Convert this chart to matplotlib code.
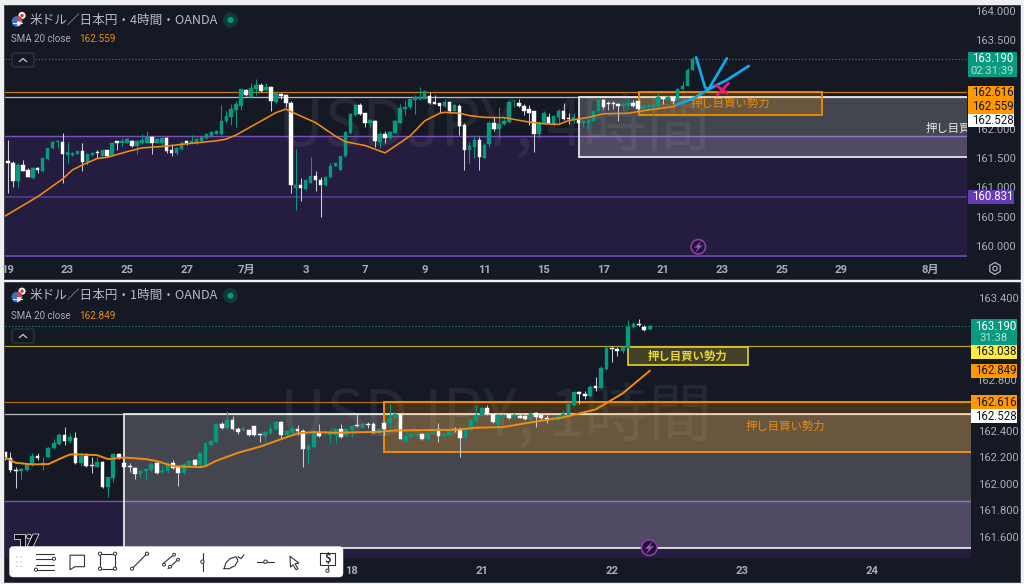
import numpy as np
import matplotlib
matplotlib.use("Agg")
import matplotlib.pyplot as plt
from matplotlib.patches import Rectangle, Circle, RegularPolygon, FancyBboxPatch, Polygon, Wedge

plt.rcParams['font.family'] = ['Noto Sans CJK JP', 'DejaVu Sans']

# 4時間足
top_open = [161.44,161.41,161.11,161.38,161.30,161.15,161.33,161.27,161.48,161.66,
    161.77,161.77,161.55,161.55,161.57,161.62,161.43,161.55,161.60,161.53,
    161.63,161.55,161.78,161.76,161.76,161.78,161.70,161.75,161.76,161.85,
    161.76,161.75,161.84,161.63,161.58,161.65,161.78,161.75,161.75,161.79,
    161.83,161.88,161.91,161.91,162.12,162.20,162.32,162.39,162.66,162.54,
    162.68,162.74,162.655,162.70,162.45,162.58,162.57,162.44,160.98,161.03,
    160.97,161.08,161.19,161.13,161.03,161.17,161.37,161.30,161.53,161.92,
    162.23,162.40,162.26,162.09,162.13,161.775,161.90,161.83,161.93,162.10,
    162.34,162.36,162.485,162.50,162.51,162.56,162.45,162.43,162.39,162.45,
    162.30,162.39,162.06,161.63,161.69,161.80,161.50,161.73,162.10,161.99,
    162.07,162.11,162.46,162.43,162.39,162.33,162.29,161.91,162.10,162.20,
    162.08,162.20,162.30,162.18,162.145,162.16,162.10,162.10,162.13,162.29,
    162.485,162.43,162.43,162.42,162.38,162.40,162.43,162.46,162.34,162.36,
    162.36,162.38,162.53,162.485,162.53,162.485,162.67,162.73,163.00]
top_high = [161.80,161.44,161.41,161.46,161.32,161.35,161.35,161.50,161.67,161.79,
    161.80,161.93,161.77,161.60,161.62,161.75,161.58,161.60,161.63,161.64,
    161.64,161.77,161.79,161.83,161.83,161.80,161.78,161.90,161.96,161.87,
    161.84,161.85,161.85,161.73,161.69,161.78,161.79,161.89,161.83,161.87,
    161.91,161.96,161.98,162.40,162.29,162.42,162.46,162.68,162.67,162.77,
    162.84,162.77,162.77,162.72,162.62,162.60,162.59,162.46,161.645,161.16,
    161.12,161.52,161.27,161.18,161.19,161.42,161.42,161.54,161.96,162.27,
    162.41,162.43,162.27,162.17,162.145,161.945,161.96,161.96,162.145,162.41,
    162.485,162.51,162.57,162.71,162.655,162.615,162.57,162.43,162.50,162.45,
    162.42,162.41,162.10,161.775,161.89,161.86,161.75,162.12,162.19,162.36,
    162.20,162.47,162.485,162.50,162.42,162.40,162.30,162.12,162.29,162.27,
    162.23,162.34,162.43,162.26,162.27,162.19,162.145,162.17,162.30,162.54,
    162.50,162.46,162.47,162.43,162.43,162.51,162.485,162.46,162.42,162.43,
    162.43,162.60,162.55,162.56,162.54,162.69,162.80,163.03,163.22]
top_low = [160.91,161.01,161.00,161.27,161.17,161.14,161.25,161.26,161.47,161.65,
    161.66,161.08,161.41,161.54,161.56,161.27,161.38,161.54,161.50,161.52,
    161.53,161.54,161.63,161.71,161.75,161.69,161.57,161.74,161.75,161.56,
    161.75,161.72,161.58,161.54,161.55,161.63,161.72,161.74,161.74,161.78,
    161.82,161.86,161.90,161.89,162.09,162.06,162.03,162.32,162.55,162.53,
    162.57,162.62,162.64,162.30,162.44,162.50,162.36,160.91,160.62,160.77,
    160.96,161.07,160.94,160.50,161.02,161.16,161.36,161.29,161.52,161.91,
    162.22,162.23,162.03,162.02,161.69,161.67,161.76,161.82,161.92,162.09,
    162.23,162.34,162.25,162.485,162.50,162.42,162.42,162.26,162.37,162.27,
    162.29,161.89,161.295,161.42,161.49,161.295,161.49,161.69,161.96,161.84,
    162.06,162.09,162.36,162.37,162.23,162.06,161.605,161.83,162.09,162.08,
    162.06,162.09,162.145,162.08,162.09,161.93,162.03,162.00,162.12,162.27,
    162.34,162.315,162.33,162.13,162.315,162.34,162.36,162.29,162.315,162.33,
    162.23,162.37,162.42,162.48,162.42,162.48,162.66,162.72,162.99]
top_close = [161.41,161.11,161.38,161.28,161.17,161.33,161.30,161.49,161.67,161.77,
    161.79,161.56,161.60,161.59,161.62,161.43,161.57,161.59,161.58,161.63,
    161.54,161.76,161.76,161.79,161.82,161.71,161.78,161.80,161.85,161.76,
    161.82,161.84,161.62,161.59,161.67,161.76,161.76,161.79,161.82,161.85,
    161.90,161.945,161.96,162.13,162.21,162.33,162.41,162.67,162.57,162.69,
    162.74,162.64,162.70,162.46,162.61,162.55,162.43,161.03,161.03,160.98,
    161.12,161.19,161.12,161.03,161.18,161.37,161.41,161.54,161.945,162.25,
    162.40,162.25,162.09,162.145,161.79,161.90,161.83,161.945,162.13,162.355,
    162.37,162.50,162.54,162.53,162.64,162.44,162.42,162.39,162.45,162.30,
    162.40,162.05,161.63,161.70,161.80,161.51,161.72,162.10,161.99,162.08,
    162.12,162.45,162.47,162.38,162.30,162.27,161.91,162.10,162.27,162.09,
    162.21,162.30,162.16,162.17,162.19,162.10,162.12,162.145,162.29,162.485,
    162.36,162.42,162.42,162.39,162.42,162.43,162.39,162.33,162.38,162.38,
    162.40,162.53,162.51,162.54,162.47,162.68,162.73,163.00,163.19]

top_sma_idx = [-1,6,11,13,15,18,20,24,27,32,36,39,42,44,46,50,54,56,58,62,66,68,72,76,81,84,87,88,91,93,96,100,105,108,111,113,117,120,125,129,134,135]
top_sma = [160.49,160.84,161.14,161.295,161.38,161.49,161.51,161.605,161.67,161.70,161.74,161.765,161.79,161.82,161.89,162.08,162.27,162.33,162.25,162.10,161.87,161.775,161.71,161.585,161.87,162.13,162.26,162.275,162.26,162.22,162.19,162.185,162.11,162.08,162.07,162.135,162.19,162.25,162.26,162.315,162.37,162.41]

top_tick_idx = [0,12,24,36,48,60,72,84,96,108,120,132,144,156,168,186]
top_tick_labels = ['19','23','25','27','7月','3','7','9','11','15','17','21','23','25','29','8月']
top_price_ticks = [164.0,163.5,162.0,161.5,161.0,160.5,160.0]

# 描き込みの線
blue_a_idx = [134.8,138.2,141.2,144.9,149.3]
blue_a = [162.406,162.513,162.667,162.825,163.064]
blue_b_idx = [141.2,144.9]
blue_b = [162.667,163.194]
blue_c_idx = [138.7,140.5,141.2]
blue_c = [163.211,162.70,162.667]
cross_a_idx = [142.7,144.9]
cross_a = [162.74,162.60]
cross_b_idx = [143.0,145.2]
cross_b = [162.57,162.77]

# 1時間足
low_open = [162.24,162.196,162.10,162.095,162.10,162.14,162.21,162.145,162.203,162.267,
    162.30,162.367,162.324,162.345,162.153,162.208,162.14,162.128,162.163,161.977,
    162.04,162.224,162.158,162.133,162.12,162.072,162.098,162.103,162.153,162.085,
    162.093,162.16,162.123,162.078,162.14,162.178,162.14,162.14,162.292,162.317,
    162.448,162.42,162.48,162.417,162.405,162.405,162.433,162.372,162.36,162.38,
    162.412,162.468,162.367,162.385,162.417,162.40,162.254,162.279,162.39,162.38,
    162.367,162.367,162.412,162.367,162.405,162.44,162.423,162.45,162.448,162.38,
    162.46,162.46,162.50,162.526,162.322,162.354,162.365,162.372,162.334,162.372,
    162.41,162.362,162.367,162.417,162.405,162.347,162.405,162.475,162.521,162.574,
    162.523,162.45,162.506,162.526,162.506,162.513,162.51,162.48,162.536,162.516,
    162.50,162.493,162.485,162.50,162.521,162.594,162.69,162.677,162.662,162.737,
    162.725,162.866,163.024,163.017,163.002,163.027,163.18,163.206,163.183,163.165]
low_high = [162.24,162.24,162.123,162.115,162.158,162.23,162.23,162.20,162.28,162.34,
    162.38,162.425,162.385,162.39,162.23,162.234,162.20,162.20,162.17,162.05,
    162.234,162.234,162.19,162.153,162.128,162.103,162.115,162.158,162.166,162.14,
    162.166,162.18,162.128,162.158,162.178,162.19,162.234,162.31,162.33,162.455,
    162.468,162.551,162.51,162.43,162.438,162.417,162.438,162.38,162.397,162.448,
    162.475,162.473,162.405,162.438,162.443,162.412,162.305,162.405,162.45,162.405,
    162.405,162.418,162.448,162.423,162.443,162.523,162.468,162.468,162.468,162.423,
    162.473,162.599,162.536,162.53,162.41,162.38,162.385,162.38,162.385,162.417,
    162.455,162.385,162.423,162.43,162.43,162.417,162.486,162.594,162.581,162.594,
    162.53,162.53,162.523,162.536,162.536,162.523,162.518,162.541,162.543,162.526,
    162.518,162.51,162.518,162.556,162.61,162.694,162.702,162.702,162.745,162.808,
    162.888,163.04,163.04,163.034,163.04,163.236,163.223,163.243,163.196,163.196]
low_low = [162.18,162.085,161.97,162.035,162.097,162.133,162.18,162.10,162.20,162.26,
    162.29,162.29,162.305,162.15,162.133,162.128,162.08,162.123,161.97,161.896,
    162.015,162.188,162.123,162.09,162.032,162.052,162.027,162.098,162.072,162.082,
    162.082,162.108,161.984,162.072,162.135,162.133,162.128,162.133,162.284,162.312,
    162.412,162.415,162.405,162.375,162.40,162.362,162.362,162.317,162.317,162.375,
    162.405,162.342,162.36,162.38,162.367,162.128,162.148,162.274,162.355,162.367,
    162.305,162.305,162.347,162.355,162.355,162.43,162.418,162.418,162.38,162.367,
    162.367,162.41,162.493,162.334,162.31,162.35,162.354,162.33,162.33,162.367,
    162.317,162.342,162.362,162.392,162.204,162.342,162.40,162.468,162.516,162.518,
    162.455,162.417,162.43,162.49,162.50,162.493,162.485,162.475,162.43,162.485,
    162.455,162.48,162.475,162.493,162.516,162.586,162.60,162.637,162.657,162.70,
    162.72,162.858,162.92,162.964,162.99,163.022,163.173,163.19,163.153,163.16]
low_close = [162.19,162.10,162.095,162.11,162.148,162.21,162.196,162.153,162.27,162.305,
    162.367,162.32,162.35,162.158,162.208,162.135,162.133,162.163,161.977,162.047,
    162.224,162.193,162.128,162.123,162.075,162.098,162.108,162.15,162.08,162.098,
    162.156,162.115,162.078,162.148,162.17,162.145,162.229,162.304,162.322,162.45,
    162.42,162.48,162.412,162.387,162.417,162.367,162.367,162.365,162.387,162.417,
    162.468,162.367,162.40,162.417,162.40,162.262,162.287,162.392,162.36,162.392,
    162.392,162.412,162.354,162.412,162.438,162.435,162.45,162.44,162.385,162.417,
    162.412,162.50,162.523,162.337,162.362,162.372,162.375,162.334,162.38,162.412,
    162.362,162.375,162.417,162.405,162.347,162.412,162.48,162.521,162.574,162.526,
    162.463,162.518,162.518,162.50,162.518,162.50,162.49,162.536,162.503,162.493,
    162.49,162.50,162.506,162.526,162.60,162.69,162.674,162.662,162.732,162.722,
    162.871,163.022,163.02,163.002,163.03,163.185,163.206,163.196,163.163,163.19]

low_sma_idx = [0,2,5,8,10,12,14,17,19,22,26,28,31,36,37,39,43,47,51,54,57,61,63,69,72,78,83,87,92,97,103,109,114,119]
low_sma = [162.198,162.158,162.146,162.148,162.186,162.221,162.221,162.216,162.186,162.198,162.186,162.171,162.133,162.125,162.133,162.173,162.234,162.279,162.337,162.38,162.39,162.385,162.387,162.392,162.402,162.405,162.407,162.423,162.428,162.463,162.501,162.561,162.682,162.853]

low_tick_idx = [64,88,112,136,160]
low_tick_labels = ['18','21','22','23','24']
low_price_ticks = [163.4,162.4,162.2,162.0,161.8,161.6]

W, H = 1024, 584
UP = '#089981'
DOWN = '#ffffff'
WICK_DOWN = '#c9ccd4'
PANEL = '#151924'
ORANGE = '#ff9800'
SMA_COL = '#f08c12'
LABEL = '#a9adb8'
ZONE_TXT = '押し目買い勢力'

fig = plt.figure(figsize=(W/100, H/100), dpi=100, facecolor='#efeff1')


def px_axes(x0, y0, x1, y1, z=1):
    a = fig.add_axes([x0/W, 1-y1/H, (x1-x0)/W, (y1-y0)/H], zorder=z)
    return a


# 下地と重ね描き用（座標はピクセル）
bg = px_axes(0, 0, W, H, 0)
bg.set_xlim(0, W); bg.set_ylim(H, 0); bg.axis('off')
ov = px_axes(0, 0, W, H, 5)
ov.set_xlim(0, W); ov.set_ylim(H, 0); ov.axis('off'); ov.patch.set_alpha(0)
bg.add_patch(Rectangle((4, 5), 1016, 274, fc=PANEL, ec='#3a3d47', lw=0.6))
bg.add_patch(Rectangle((4, 282), 1016, 300, fc=PANEL, ec='#3a3d47', lw=0.6))


def setup(ax, xlim, ylim, ticks, labels, prices, pad):
    ax.set_xlim(*xlim)
    ax.set_ylim(*ylim)
    ax.set_facecolor(PANEL)
    for s in ax.spines.values():
        s.set_visible(False)
    ax.yaxis.tick_right()
    ax.set_yticks(prices)
    ax.set_yticklabels(['%.3f' % p for p in prices], family='Roboto', fontsize=8.1, color=LABEL)
    ax.set_xticks(ticks)
    ax.set_xticklabels(labels, family=['Roboto', 'Noto Sans CJK JP'], fontsize=8.1, color=LABEL, fontweight='bold')
    ax.tick_params(axis='both', length=0)
    ax.tick_params(axis='y', pad=pad)
    ax.tick_params(axis='x', pad=6)


def candles(ax, o, h, l, c, width):
    o, h, l, c = map(np.array, (o, h, l, c))
    idx = np.arange(len(o))
    up = c >= o
    ax.vlines(idx[up], l[up], h[up], color=UP, lw=0.75, zorder=4)
    ax.vlines(idx[~up], l[~up], h[~up], color=WICK_DOWN, lw=0.75, zorder=4)
    ax.bar(idx[up], (c-o)[up], bottom=o[up], width=width, color=UP, edgecolor=UP, lw=0.3, zorder=5)
    ax.bar(idx[~up], (c-o)[~up], bottom=o[~up], width=width, color=DOWN, edgecolor=DOWN, lw=0.3, zorder=5)


def tag(y, h, txt, fc, tc, xl, xr, tx, ty=None):
    # yはラベル上端、tyは文字の中心（ピクセル）
    ov.add_patch(Rectangle((xl, y), xr-xl, h, fc=fc, ec='none', zorder=3))
    if txt:
        ov.text(tx, ty if ty is not None else y+h/2, txt, family='Roboto', fontsize=8.3, color=tc,
                ha='center', va='center', zorder=4)


def header(y_title, y_sma, y_btn, title, sma_value):
    ov.text(30, y_title, title, fontsize=9.1, color='#b7bac3', va='center')
    ov.text(11, y_sma, 'SMA 20 close', family='Roboto', fontsize=7, color='#a9adb8', va='center')
    ov.text(79, y_sma, sma_value, family='Roboto', fontsize=7.2, color='#ef8a12', va='center')
    ov.add_patch(FancyBboxPatch((12, y_btn-7), 22, 14, boxstyle='round,pad=0,rounding_size=2', fc=PANEL, ec='#3b3f4a', lw=0.7))
    ov.plot([19.5, 23, 26.5], [y_btn+1.5, y_btn-1.5, y_btn+1.5], color='#c5c8d0', lw=0.9)
    # 国旗アイコン
    fy = y_title + 1.5
    ov.add_patch(Circle((22, fy-6), 3.6, fc='#f4f4f4', ec='none'))
    ov.add_patch(Circle((22, fy-6), 1.7, fc='#d8343f', ec='none'))
    ov.add_patch(Circle((17, fy), 5.2, fc='#e9e9ec', ec=PANEL, lw=0.5))
    ov.add_patch(Wedge((17, fy), 5.2, 180, 360, fc='#d8434e', ec='none'))
    ov.add_patch(Wedge((17, fy), 5.2, 90, 270, fc='#3f6fc0', ec='none'))
    ov.plot([12.5, 21.5], [fy+1.6, fy+1.6], color='#f4f4f4', lw=0.7)
    # 市場オープンの印
    ov.add_patch(Circle((230.5, y_title), 7.5, fc='#0f3a35', ec='none'))
    ov.add_patch(Circle((230.5, y_title), 3, fc='#089981', ec='none'))


def bolt(x, y, r):
    ov.add_patch(Circle((x, y), r, fc='#1d1730', ec='#8e3aa8', lw=1.2))
    s = r / 5.0
    ov.add_patch(Polygon([(x+2.2*s, y-4.2*s), (x-2.8*s, y+0.8*s), (x-0.2*s, y+0.6*s), (x-2.2*s, y+4.2*s),
                          (x+3*s, y-1*s), (x+0.4*s, y-0.8*s)], closed=True, fc='#a94fc4', ec='none'))


# 上のペイン
ax1 = px_axes(5, 6, 967, 257)
setup(ax1, (-0.6, 193.3), (159.813, 164.085), top_tick_idx, top_tick_labels, top_price_ticks, 6)
ax1.axhspan(159.7, 161.87, color='#251d3f', lw=0, zorder=0)
ax1.text(0.284, 0.514, 'USDJPY, 4時間', transform=ax1.transAxes, fontsize=46, color='white', alpha=0.065,
         ha='left', va='center', zorder=1)
ax1.axhline(161.87, color='#7a52c0', lw=1.0, zorder=2)
ax1.axhline(160.831, color='#4f3585', lw=1.4, zorder=2)
ax1.axhline(159.83, color='#6a45ae', lw=1.3, zorder=2)
ax1.axhline(163.19, color=UP, lw=0.8, ls=(0, (1, 2)), zorder=2)
ax1.axhline(162.616, color='#c77a0a', lw=0.9, zorder=2)
ax1.axhline(162.528, color='#b9bcc4', lw=0.9, zorder=2)
ax1.add_patch(Rectangle((115.1, 161.515), 100, 162.528-161.515, fc=(1, 1, 1, 0.2), ec='#e6e6e6', lw=1.3, zorder=3))
ax1.add_patch(Rectangle((127.1, 162.235), 37, 162.616-162.235, fc=(1, 0.6, 0, 0.2), ec='#f08c00', lw=1.3, zorder=3))
candles(ax1, top_open, top_high, top_low, top_close, 0.7)
ax1.plot(top_sma_idx, top_sma, color=SMA_COL, lw=1.15, zorder=6)
ax1.text(145.6, 162.435, ZONE_TXT, color='#e98a10', fontsize=8.2, ha='center', va='center', zorder=7)
ax1.text(185, 162.0, ZONE_TXT, color='#e6e6e6', fontsize=8.2, ha='left', va='center', zorder=7, clip_on=True)
for xs, ys in ((blue_a_idx, blue_a), (blue_b_idx, blue_b), (blue_c_idx, blue_c)):
    ax1.plot(xs, ys, color='#12a9e6', lw=2.0, solid_capstyle='round', zorder=8)
for xs, ys in ((cross_a_idx, cross_a), (cross_b_idx, cross_b)):
    ax1.plot(xs, ys, color='#e9197f', lw=2.0, solid_capstyle='round', zorder=9)

# 下のペイン
ax2 = px_axes(5, 283, 970.5, 558)
setup(ax2, (0, 178.2), (161.439, 163.516), low_tick_idx, low_tick_labels, low_price_ticks, 5.5)
ax2.axhspan(161.3, 161.87, color='#251d3f', lw=0, zorder=0)
ax2.text(0.285, 0.509, 'USDJPY, 1時間', transform=ax2.transAxes, fontsize=46, color='white', alpha=0.065,
         ha='left', va='center', zorder=1)
ax2.axhline(161.87, color='#7a52c0', lw=1.0, zorder=2)
ax2.axhline(163.19, color=UP, lw=0.8, ls=(0, (1, 2)), zorder=2)
ax2.axhline(163.038, color='#b5a51e', lw=0.9, zorder=2)
ax2.axhline(162.616, color='#b56d0a', lw=0.9, zorder=2)
ax2.axhline(162.528, color='#b9bcc4', lw=0.9, zorder=2)
ax2.add_patch(Rectangle((22, 161.517), 170, 162.528-161.517, fc=(1, 1, 1, 0.2), ec='#e6e6e6', lw=1.3, zorder=3))
ax2.add_patch(Rectangle((69.9, 162.24), 120, 162.616-162.24, fc=(1, 0.6, 0, 0.2), ec='#f08c00', lw=1.4, zorder=3))
ax2.add_patch(Rectangle((115, 162.895), 22.1, 163.033-162.895, fc=(1, 0.92, 0.23, 0.2), ec='#d8c62a', lw=1.3, zorder=3))
candles(ax2, low_open, low_high, low_low, low_close, 0.7)
ax2.plot(low_sma_idx, low_sma, color=SMA_COL, lw=1.4, zorder=6)
ax2.text(126, 162.965, ZONE_TXT, color='#e8d632', fontsize=8.2, ha='center', va='center', zorder=7, fontweight='bold')
ax2.text(144, 162.43, ZONE_TXT, color='#e98a10', fontsize=8.2, ha='center', va='center', zorder=7)

# 価格ラベル（上）
tag(51.7, 25.6, '', UP, 'white', 968, 1017, 992.5)
ov.text(992.5, 58.8, '163.190', family='Roboto', fontsize=8.3, color='white', ha='center', va='center', zorder=4)
ov.text(992.5, 71, '02:31:39', family='Roboto', fontsize=8.1, color='#b5dfd6', ha='center', va='center', zorder=4)
tag(85.7, 28, '162.616', ORANGE, '#131722', 968, 1014, 992.5, 92.5)
ov.text(992.5, 106.3, '162.559', family='Roboto', fontsize=8.3, color='#131722', ha='center', va='center', zorder=4)
tag(113.7, 13.5, '162.528', '#ffffff', '#131722', 968, 1014, 992.5)
tag(190, 13.7, '160.831', '#673ab7', 'white', 968, 1014, 992.5)

# 価格ラベル（下）
tag(319.3, 25.7, '', UP, 'white', 971, 1017, 996)
ov.text(996, 326, '163.190', family='Roboto', fontsize=8.3, color='white', ha='center', va='center', zorder=4)
ov.text(994, 338, '31:38', family='Roboto', fontsize=8.1, color='#b5dfd6', ha='center', va='center', zorder=4)
tag(345, 13.7, '163.038', '#ffeb3b', '#131722', 971, 1017, 996)
tag(364, 14, '162.849', ORANGE, '#131722', 971, 1017, 996)
tag(395, 14, '162.616', ORANGE, '#131722', 971, 1017, 996)
tag(409, 14, '162.528', '#ffffff', '#131722', 971, 1017, 996)
ov.text(996, 380.5, '162.800', family='Roboto', fontsize=8.1, color=LABEL, ha='center', va='center', zorder=2)

header(20, 39, 60, '米ドル／日本円・4時間・OANDA', '162.559')
header(295.7, 315.7, 336, '米ドル／日本円・1時間・OANDA', '162.849')
bolt(698.3, 246.7, 7.2)
bolt(649.3, 547.7, 7.8)

# 設定アイコン
ov.add_patch(RegularPolygon((995, 268.5), 6, radius=6, fc='none', ec='#b2b5be', lw=0.9))
ov.add_patch(Circle((995, 268.5), 2.2, fc='none', ec='#b2b5be', lw=0.8))

# TradingViewのロゴ
ov.add_patch(Polygon([(13.5, 534), (25, 534), (25, 547), (20, 547), (20, 539), (13.5, 539)], closed=True, fc='#0c0e13', ec='white', lw=0.5))
ov.add_patch(Circle((29, 536.5), 2.4, fc='#0c0e13', ec='white', lw=0.5))
ov.add_patch(Polygon([(33, 534), (39, 534), (33, 547), (27, 547)], closed=True, fc='#0c0e13', ec='white', lw=0.5))

# ツールバー
ov.add_patch(FancyBboxPatch((9.5, 546.5), 333.5, 30.5, boxstyle='round,pad=0,rounding_size=4', fc='white', ec='#e4e4e4', lw=0.4, zorder=6))
ic = '#2f323c'


def ln(xs, ys):
    ov.plot(xs, ys, color=ic, lw=0.8, zorder=7, solid_capstyle='round')


def dot(x, y, r=1.6):
    ov.add_patch(Circle((x, y), r, fc='white', ec=ic, lw=0.7, zorder=8))


cy = 561.7
for gx in (17, 21):
    for gy in (557, 562, 566.5):
        ov.add_patch(Circle((gx, gy), 0.6, fc='#a6a8ae', ec='none', zorder=7))
for dy, x1, x0 in ((-8, 54, 36), (-3, 52, 36), (3, 54, 36), (8, 54, 37)):
    ln([x0, x1], [cy+dy, cy+dy])
dot(54, cy-3); dot(36, cy+8)
ov.add_patch(Polygon([(70, cy-6.5), (84.5, cy-6.5), (84.5, cy+5), (75, cy+5), (70, cy+8)], closed=True, fc='white', ec=ic, lw=0.8, zorder=7))
ln([100, 115, 115, 100, 100], [cy-8, cy-8, cy+7, cy+7, cy-8])
for px, py in ((100, cy-8), (115, cy-8), (100, cy+7), (115, cy+7)):
    dot(px, py)
ln([132, 147], [cy+7, cy-8]); dot(132, cy+7); dot(147, cy-8)
ln([163, 175], [cy+2, cy-8]); ln([168, 179], [cy+7, cy-3])
for px, py in ((164, cy+3), (174, cy-7), (170, cy+5), (178, cy-2)):
    dot(px, py, 1.4)
ln([202.5, 202.5], [cy-9, cy+9]); dot(202.5, cy, 1.7)
ln([224, 226, 230, 236, 238, 235, 229, 224], [cy+7, cy+1, cy-3, cy-5, cy-1, cy+4, cy+7, cy+7])
ln([238, 241, 244], [cy-5, cy-3, cy-7])
ln([257, 274], [cy, cy]); dot(265.5, cy, 1.7)
ov.add_patch(Polygon([(290, cy-5.5), (299, cy+1.5), (295, cy+2), (298, cy+7), (296, cy+8), (293, cy+3), (290.5, cy+5.5)], closed=True, fc='white', ec=ic, lw=0.8, zorder=7))
ln([320, 335, 335, 320, 320], [cy-9, cy-9, cy+3, cy+3, cy-9])
ov.text(327.5, cy-3, '$', fontsize=8, color=ic, ha='center', va='center', zorder=8, fontweight='bold')
ln([327.5, 327.5], [cy+3, cy+8]); dot(327.5, cy+9, 1.6)

fig.savefig('out.png', dpi=100, facecolor=fig.get_facecolor())
